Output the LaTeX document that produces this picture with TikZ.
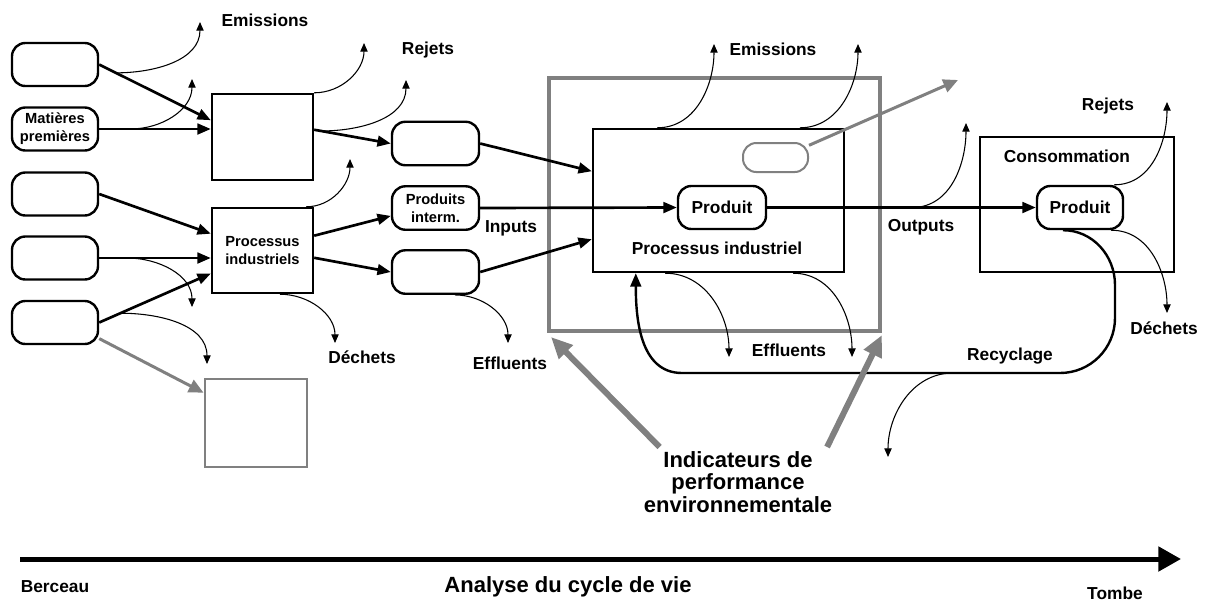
\documentclass[tikz,border=0pt]{standalone}
\usepackage{fontspec}
\setmainfont{Liberation Sans}
\usetikzlibrary{arrows.meta,calc}

\definecolor{indgray}{RGB}{128,128,128}

\tikzset{
  srcbox/.style={draw, line width=1.8pt, rounded corners=10pt, minimum width=64.5pt,
    minimum height=32.25pt, inner sep=0pt, align=center,
    font=\fontsize{11}{13.5}\selectfont\bfseries},
  procbox/.style={draw, line width=1.8pt, inner sep=0pt, align=center,
    font=\fontsize{11}{13.5}\selectfont\bfseries},
  lbl/.style={font=\fontsize{13}{15}\selectfont\bfseries},
  biglbl/.style={font=\fontsize{16.5}{17}\selectfont\bfseries, align=center, inner sep=0pt},
  flow/.style={line width=2pt, -{Triangle[length=10pt,width=8pt]}},
  recyc/.style={line width=1.8pt, -{Triangle[length=10pt,width=8pt]}},
  leak/.style={line width=0.8pt, -{Triangle[length=6.5pt,width=5.5pt]}},
  grayarrow/.style={indgray, line width=2.25pt, -{Triangle[length=11pt,width=10pt]}},
  indarrow/.style={indgray, line width=4.5pt, -{Triangle[length=16pt,width=14pt]}},
  axis/.style={line width=3.75pt, -{Triangle[length=17pt,width=18pt]}}
}

\begin{document}
\begin{tikzpicture}[x=0.75pt, y=-0.75pt]
  \useasboundingbox (0,0) rectangle (1207,601);

  % sources
  \node[srcbox] (src1) at (55,64.5) {};
  \node[srcbox] (matieres) at (55,129) {Matières\\premières};
  \node[srcbox] (src3) at (55,194) {};
  \node[srcbox] (src4) at (55,258) {};
  \node[srcbox] (src5) at (55,322.5) {};

  % amont
  \node[procbox, minimum width=75.75pt, minimum height=64.5pt] (procA) at (262.5,137) {};
  \node[procbox, minimum width=75.75pt, minimum height=63.75pt] (procB) at (262.5,250.5) {Processus\\industriels};
  \node[srcbox, minimum width=65.25pt, minimum height=32.6pt] (inter1) at (435.5,143.5) {};
  \node[srcbox, minimum width=65.25pt, minimum height=32.6pt] (inter2) at (435.5,208) {Produits\\interm.};
  \node[srcbox, minimum width=65.25pt, minimum height=32.6pt] (inter3) at (435.5,272) {};
  \node[draw=indgray, line width=2.2pt, minimum width=76.5pt, minimum height=66pt] (sqr) at (256,423) {};

  % processus industriel
  \node[draw=indgray, line width=3pt, minimum width=248.25pt, minimum height=189.75pt] (acv) at (714.5,204.5) {};
  \node[procbox, minimum width=188.25pt, minimum height=107.25pt] (inner) at (718.5,200.5) {};
  \node[lbl] (innerlbl) at (717,248) {Processus industriel};
  \node[draw=indgray, line width=1.5pt, rounded corners=10pt, minimum width=48.75pt, minimum height=21.75pt] (pill) at (775.5,157.5) {};
  \node[srcbox, lbl, minimum width=66pt] (produit) at (722,207.5) {Produit};

  % consommation
  \node[procbox, minimum width=145.5pt, minimum height=101.25pt] (conso) at (1077,204.5) {};
  \node[lbl] (consolbl) at (1067,156) {Consommation};
  \node[srcbox, lbl] (produitC) at (1080,207.5) {Produit};

  % labels
  \node[lbl] (emis1) at (265,20) {Emissions};
  \node[lbl] (rej1) at (428,50) {Rejets};
  \node[lbl] (dech1) at (362,357) {Déchets};
  \node[lbl] (eff1) at (510,363) {Effluents};
  \node[lbl] (inputs) at (511,228) {Inputs};
  \node[lbl] (emis2) at (773,49) {Emissions};
  \node[lbl] (eff2) at (789,350) {Effluents};
  \node[lbl] (outputs) at (921,227) {Outputs};
  \node[lbl] (rej2) at (1108,106) {Rejets};
  \node[lbl] (dech2) at (1164,328) {Déchets};
  \node[lbl] (recycl) at (1010,356) {Recyclage};
  \node[biglbl] (indic) at (738,482) {Indicateurs de\\performance\\environnementale};
  \node[lbl] (berceau) at (55,587) {Berceau};
  \node[biglbl] (analyse) at (568,587) {Analyse du cycle de vie};
  \node[lbl] (tombe) at (1115,593) {Tombe};

  % flux principaux
  \draw[flow] (src1.east) -- (procA.162);
  \draw[flow] (matieres.east) -- (matieres.east -| procA.west);
  \draw[flow] (procA.8) -- (inter1.west);
  \draw[flow] (src3.east) -- (procB.162);
  \draw[flow] (src4.east) -- (src4.east -| procB.west);
  \draw[flow] (src5.east) -- (procB.204);
  \draw[flow] (procB.16) -- (inter2.190);
  \draw[flow] (procB.-8) -- (inter3.west);
  \draw[flow] (inter1.east) -- (inner.167);
  \draw[flow] (inter3.east) -- (inner.197);
  \draw[flow] (inter2.east) -- (produit.west);
  \draw[flow] (produit.east) -- (produitC.west);

  % fuites
  \coordinate (emA) at (200,22);
  \coordinate (emB) at (192,79);
  \coordinate (rjA) at (364,43);
  \coordinate (rjB) at (406,80);
  \coordinate (emC) at (350,159);
  \coordinate (dcA) at (192,307);
  \coordinate (dcB) at (207,364);
  \coordinate (dcC) at (335,343);
  \coordinate (efA) at (508,343);
  \coordinate (emD) at (714,44);
  \coordinate (emE) at (858,44);
  \coordinate (efB) at (729,357);
  \coordinate (efC) at (852,357);
  \coordinate (emF) at (966,123);
  \coordinate (rjC) at (1167,102);
  \coordinate (dcD) at (1167,313);
  \coordinate (rcA) at (888,457);
  \draw[leak] ($(src1.east)!0.15!(procA.162)$) to[out=0,in=-90] (emA);
  \draw[leak] ($(matieres.east)!0.28!(matieres.east -| procA.west)$) to[out=0,in=-90] (emB);
  \draw[leak] (procA.north east) to[out=0,in=-90] (rjA);
  \draw[leak] ($(procA.8)!0.09!(inter1.west)$) to[out=0,in=-90] (rjB);
  \draw[leak] ([xshift=-6pt]procB.north east) to[out=0,in=-90] (emC);
  \draw[leak] ($(src4.east)!0.25!(src4.east -| procB.west)$) to[out=0,in=90] (dcA);
  \draw[leak] ($(src5.east)!0.19!(procB.204)$) to[out=0,in=90] (dcB);
  \draw[leak] ([xshift=13pt]procB.south) to[out=0,in=90] (dcC);
  \draw[leak] ([xshift=14.6pt]inter3.south) to[out=0,in=90] (efA);
  \draw[leak] ([xshift=-46pt]inner.north) to[out=0,in=-90] (emD);
  \draw[leak] ([xshift=61pt]inner.north) to[out=0,in=-90] (emE);
  \draw[leak] ([xshift=-40pt]inner.south) to[out=0,in=90] (efB);
  \draw[leak] ([xshift=56pt]inner.south) to[out=0,in=90] (efC);
  \draw[leak] ($(produit.east)!0.54!(produitC.west)$) to[out=0,in=-90] (emF);
  \draw[leak] ([xshift=-7.5pt]produitC.north east) to[out=0,in=-90] (rjC);
  \draw[leak] ([xshift=-9.75pt]produitC.south east) to[out=0,in=90] (dcD);

  % recyclage
  \draw[recyc] ([xshift=-12.75pt]produitC.south) to[out=0,in=90] (1115,285) -- (1115,318)
    to[out=-90,in=0] (1060,373) -- (953,373) coordinate (recbr) -- (682,373)
    to[out=180,in=-90] ([xshift=33pt]inner.south west);
  \draw[leak] (recbr) to[out=180,in=90] (rcA);

  % fleches grises
  \coordinate (pillout) at (958,80);
  \draw[grayarrow] (pill.20) -- (pillout);
  \draw[grayarrow] (src5.-20) -- (sqr.150);
  \draw[indarrow] ([shift={(12pt,3pt)}]indic.north west) -- ([shift={(3pt,-3pt)}]acv.south west);
  \draw[indarrow] ([shift={(-4pt,3pt)}]indic.north east) -- ([shift={(0pt,-1.5pt)}]acv.south east);

  % axe
  \coordinate (axstart) at (20,559);
  \coordinate (axend) at (1181,559);
  \draw[axis] (axstart) -- (axend);
\end{tikzpicture}
\end{document}
